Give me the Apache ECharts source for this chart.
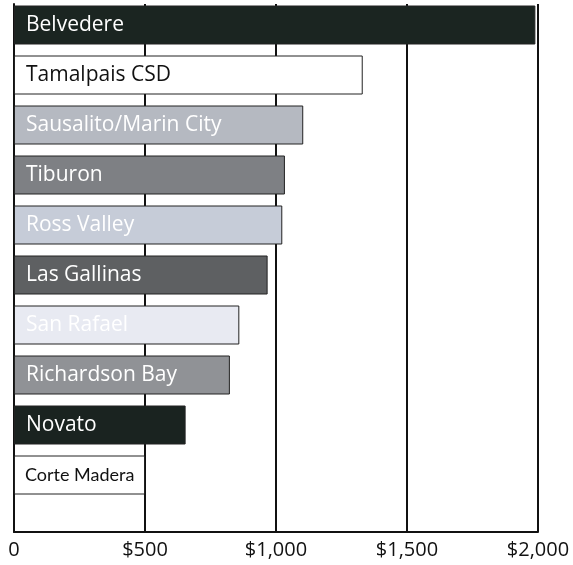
<!DOCTYPE html>
<html><head><meta charset="utf-8">
<script src="https://cdn.jsdelivr.net/npm/echarts@6/dist/echarts.min.js"></script>
<style>html,body{margin:0;padding:0;background:#fff}#c{width:573px;height:565px}</style>
</head><body><div id="c"></div>
<script>
var categories = ['Belvedere','Tamalpais CSD','Sausalito/Marin City','Tiburon','Ross Valley','Las Gallinas','San Rafael','Richardson Bay','Novato','Corte Madera'];
var values = [1990, 1331, 1104, 1034, 1024, 968, 860, 824, 655, 500];
var barColors = ['#1b2521','#ffffff','#b5b9c1','#7e8084','#c6ccd8','#5e6062','#e8eaf2','#909296','#1a2320','#ffffff'];
var labelColors = ['#ffffff','#111111','#ffffff','#ffffff','#ffffff','#ffffff','#ffffff','#ffffff','#ffffff','#111111'];
var tickValues = [0, 500, 1000, 1500, 2000];
var tickLabels = ['0','$500','$1,000','$1,500','$2,000'];

var FONT = 'Open Sans';
var chart = echarts.init(document.getElementById('c'));
chart.setOption({
  animation: false,
  grid: [
    {left: 14, width: 524, top: -1, height: 501},
    {left: 14, width: 524, top: 4, height: 528}
  ],
  xAxis: [
    {gridIndex: 0, type: 'value', min: 0, max: 2000, show: false},
    {gridIndex: 1, type: 'value', min: 0, max: 2000, interval: 500,
     axisLine: {show: true, lineStyle: {color: '#111', width: 2}},
     axisTick: {show: false},
     splitLine: {show: true, lineStyle: {color: '#111', width: 2}},
     axisLabel: {color: '#111', fontFamily: FONT, fontSize: 20, margin: 8,
       formatter: function (v) { var i = tickValues.indexOf(v); return i >= 0 ? tickLabels[i] : ''; }}}
  ],
  yAxis: [
    {gridIndex: 0, type: 'category', data: categories, inverse: true, show: false},
    {gridIndex: 1, type: 'value', min: 0, max: 1,
     axisLine: {show: true, lineStyle: {color: '#111', width: 2}},
     axisTick: {show: false}, axisLabel: {show: false}, splitLine: {show: false}}
  ],
  series: [{
    type: 'bar', xAxisIndex: 0, yAxisIndex: 0,
    barWidth: 39,
    data: values.map(function (v, i) {
      var lbl = {color: labelColors[i]};
      if (i === categories.length - 1) { lbl.fontFamily = 'Lato'; lbl.fontSize = 18; lbl.distance = 11; }
      return {value: v,
        itemStyle: {color: barColors[i], borderColor: '#222', borderWidth: 1},
        label: lbl};
    }),
    label: {show: true, position: 'insideLeft', distance: 12,
      fontFamily: FONT, fontSize: 21,
      formatter: function (p) { return categories[p.dataIndex]; }},
    z: 3
  }]
});
</script></body></html>
